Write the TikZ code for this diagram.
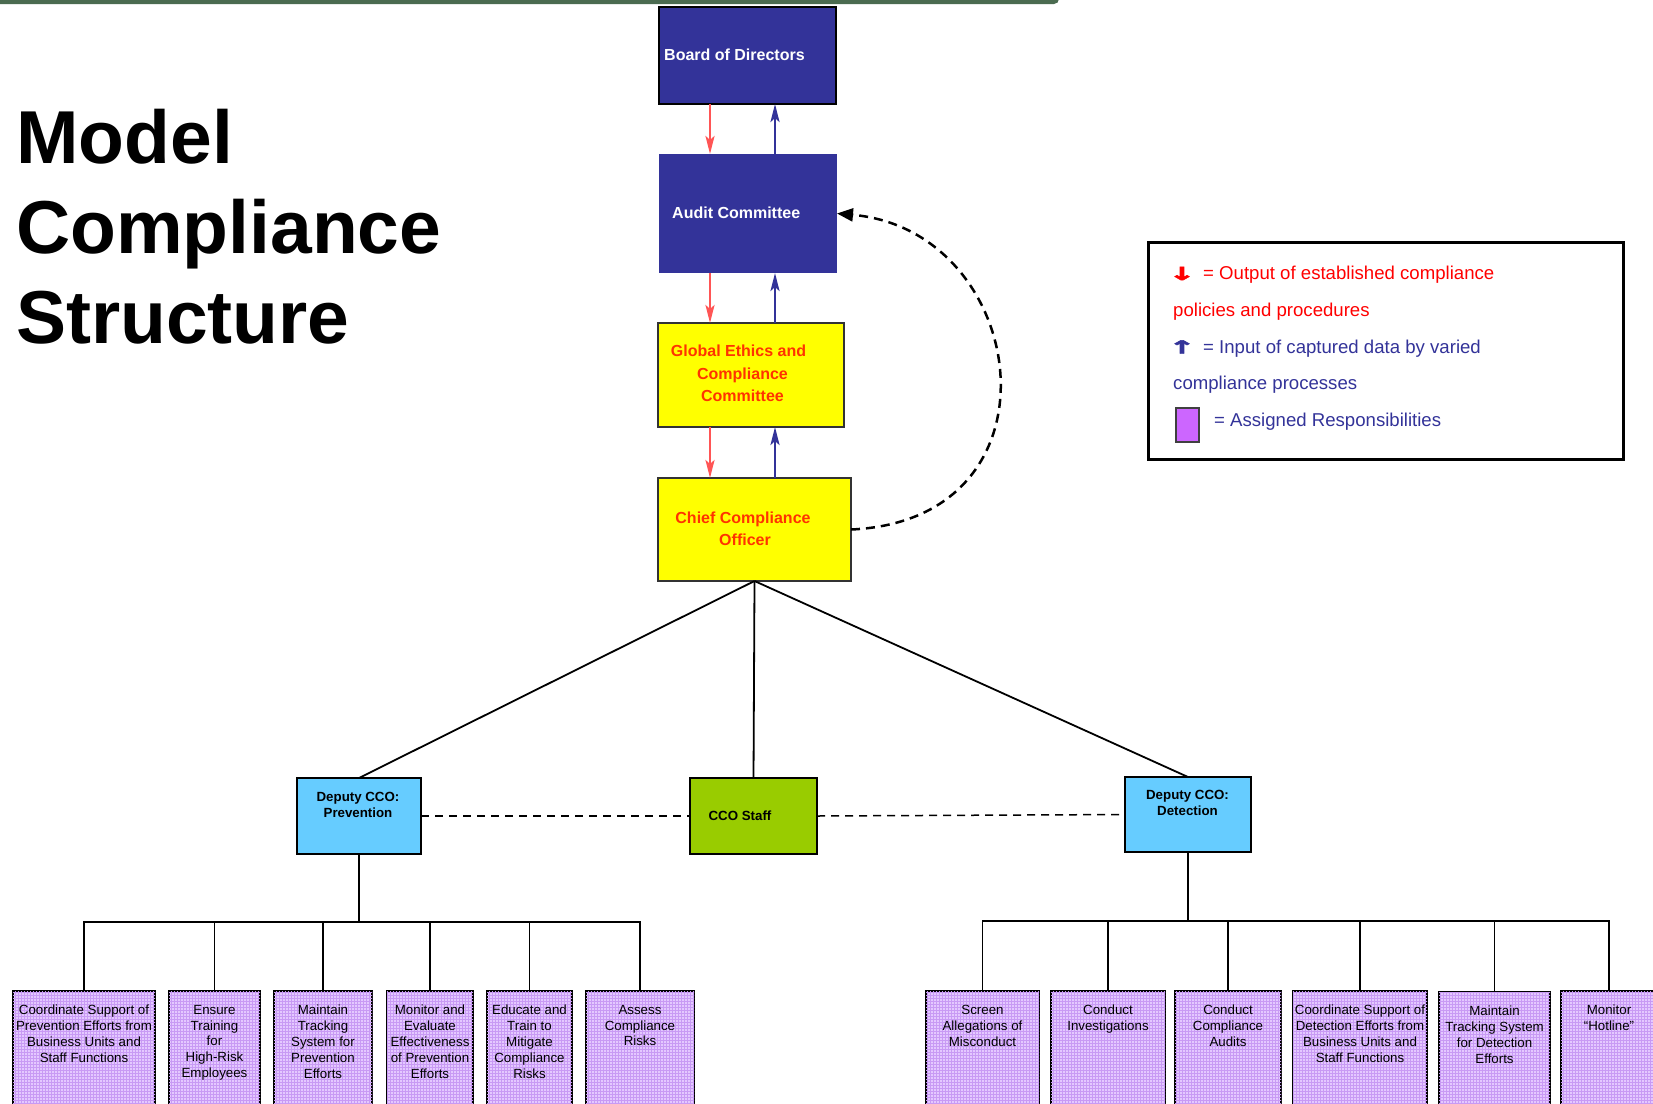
\documentclass[tikz,border=0pt]{standalone}
\usepackage{fontspec}
\setmainfont{Liberation Sans}
\newfontfamily\arrowfont[FakeBold=2.5]{DejaVu Sans}
\usetikzlibrary{arrows.meta,patterns}
\definecolor{navy}{HTML}{333399}
\definecolor{ylw}{HTML}{FFFF00}
\definecolor{ored}{HTML}{FF3300}
\definecolor{redarrow}{HTML}{FF5555}
\definecolor{ltblue}{HTML}{66CCFF}
\definecolor{stgreen}{HTML}{99CC00}
\definecolor{respfill}{HTML}{E4C8FF}
\definecolor{respgrid}{HTML}{C89AF4}
\definecolor{legpurple}{HTML}{CC66FF}
\definecolor{legred}{HTML}{FF0000}
\definecolor{topbar}{HTML}{4B6B50}
\tikzset{
  box/.style={anchor=north west, inner sep=0pt, outer sep=0pt},
  navybox/.style={box, fill=navy},
  ylwbox/.style={box, fill=ylw, draw=black!80, line width=1.3pt},
  depbox/.style={box, fill=ltblue, draw=black, line width=2pt},
  resp/.style={box, draw=black, line width=1.8pt, fill=respfill,
    postaction={pattern=grid, pattern color=respgrid}},
  whitetext/.style={text=white, font=\fontsize{16}{20}\selectfont\bfseries, inner sep=0pt},
  ylwtext/.style={text=ored, font=\fontsize{16}{22.5}\selectfont\bfseries, align=center, inner sep=0pt},
  deptext/.style={text=black, font=\fontsize{13.3}{16}\selectfont\bfseries, align=center, inner sep=0pt},
  resptext/.style={text=black, font=\fontsize{13.3}{15.8}\selectfont, align=center, inner sep=0pt, anchor=north},
  downarrow/.style={draw=redarrow, line width=2.5pt, -{Stealth[length=18pt,width=9pt,inset=4pt]}},
  uparrow/.style={draw=navy, line width=2.5pt, -{Stealth[length=18pt,width=9pt,inset=4pt]}},
  tree/.style={draw=black, line width=1.8pt},
  thin dash/.style={draw=black, line width=1.5pt, dash pattern=on 8pt off 6pt},
  legtext/.style={font=\fontsize{18.6}{22}\selectfont, inner sep=0pt, anchor=base west},
  legarrow/.style={font=\arrowfont\fontsize{19}{22}\selectfont\bfseries, inner sep=0pt, anchor=base},
}
\begin{document}
\begin{tikzpicture}[x=1pt,y=-1pt]
\useasboundingbox (0,0) rectangle (1653,1103);
\clip (0,0) rectangle (1653,1103);
\fill[white] (0,0) rectangle (1653,1103);
% top bar
\fill[topbar, rounded corners=5pt] (-10,-10) rectangle (1059,4);

% title
\node[anchor=north west, inner sep=0pt, align=left,
  font=\fontsize{75}{90}\selectfont\bfseries] (title) at (16,108.5)
  {Model\\Compliance\\Structure};

% top chain
\node[navybox, draw=black, line width=2pt, minimum width=177pt, minimum height=97pt] (board) at (659,7) {};
\node[whitetext, anchor=west] (boardT) at (664,55) {Board of Directors};
\node[navybox, minimum width=178pt, minimum height=119pt] (audit) at (659,154) {};
\node[whitetext, anchor=west] (auditT) at (672,213) {Audit Committee};
\node[ylwbox, minimum width=186pt, minimum height=104pt] (gecc) at (658,323) {};
\node[ylwtext] (geccT) at (742.5,373.4) {Global Ethics and\hspace*{8pt}\\Compliance\\Committee};
\node[ylwbox, minimum width=193pt, minimum height=103pt] (cco) at (658,478) {};
\node[ylwtext] (ccoT) at (745,529) {Chief Compliance\hspace*{4pt}\\Officer};

\coordinate (xr) at (710,0);
\coordinate (xb) at (775,0);
\draw[downarrow] (board.south -| xr) -- (audit.north -| xr);
\draw[uparrow] (audit.north -| xb) -- (board.south -| xb);
\draw[downarrow] (audit.south -| xr) -- (gecc.north -| xr);
\draw[uparrow] (gecc.north -| xb) -- (audit.south -| xb);
\draw[downarrow] (gecc.south -| xr) -- (cco.north -| xr);
\draw[uparrow] (cco.north -| xb) -- (gecc.south -| xb);

% dashed feedback curve
\draw[line width=2.5pt, dash pattern=on 9pt off 6pt, -{Triangle[length=16pt,width=13pt]}]
  (cco.east) .. controls (1070,520) and (1030,230) .. (audit.east);

% deputies
\node[depbox, minimum width=124pt, minimum height=76pt] (prev) at (297,778) {};
\node[deptext] (prevT) at (358,805) {Deputy CCO:\\Prevention};
\node[box, fill=stgreen, draw=black, line width=2pt, minimum width=127pt, minimum height=76pt] (staff) at (690,778) {};
\node[deptext] (staffT) at (740,816) {CCO Staff};
\node[depbox, minimum width=126pt, minimum height=75pt] (det) at (1125,777) {};
\node[deptext] (detT) at (1187.5,803) {Deputy CCO:\\Detection};

\draw[tree] (cco.south) -- (prev.north);
\draw[tree] (cco.south) -- (staff.north);
\draw[tree] (cco.south) -- (det.north);
\draw[thin dash] (prev.east) -- (staff.west);
\draw[thin dash] (staff.east) -- (det.west);

% prevention responsibilities
\node[resp, minimum width=142pt, minimum height=130pt] (p1) at (13,991) {};
\node[resp, minimum width=91pt, minimum height=130pt] (p2) at (169,991) {};
\node[resp, minimum width=98pt, minimum height=130pt] (p3) at (274,991) {};
\node[resp, minimum width=86pt, minimum height=130pt] (p4) at (387,991) {};
\node[resp, minimum width=85pt, minimum height=130pt] (p5) at (487,991) {};
\node[resp, minimum width=108pt, minimum height=130pt] (p6) at (586,991) {};
\node[resptext] (p1t) at ([yshift=-14pt]p1.north) {Coordinate Support of\\Prevention Efforts from\\Business Units and\\Staff Functions};
\node[resptext] (p2t) at ([yshift=-14pt]p2.north) {Ensure\\Training\\for\\High-Risk\\Employees};
\node[resptext] (p3t) at ([yshift=-14pt]p3.north) {Maintain\\Tracking\\System for\\Prevention\\Efforts};
\node[resptext] (p4t) at ([yshift=-14pt]p4.north) {Monitor and\\Evaluate\\Effectiveness\\of Prevention\\Efforts};
\node[resptext] (p5t) at ([yshift=-14pt]p5.north) {Educate and\\Train to\\Mitigate\\Compliance\\Risks};
\node[resptext] (p6t) at ([yshift=-14pt]p6.north) {Assess\\Compliance\\Risks};

\coordinate (pbar) at (359,922);
\draw[tree, line width=2.6pt] (prev.south) -- (pbar);
\draw[tree] (p1.north) -- (p1.north |- pbar) -- (pbar);
\draw[tree] (p2.north) -- (p2.north |- pbar) -- (pbar);
\draw[tree] (p3.north) -- (p3.north |- pbar) -- (pbar);
\draw[tree] (p4.north) -- (p4.north |- pbar) -- (pbar);
\draw[tree] (p5.north) -- (p5.north |- pbar) -- (pbar);
\draw[tree] (p6.north) -- (p6.north |- pbar) -- (pbar);

% detection responsibilities
\node[resp, minimum width=113pt, minimum height=130pt] (d1) at (926,991) {};
\node[resp, minimum width=114pt, minimum height=130pt] (d2) at (1051,991) {};
\node[resp, minimum width=106pt, minimum height=130pt] (d3) at (1175,991) {};
\node[resp, minimum width=134pt, minimum height=130pt] (d4) at (1293,991) {};
\node[resp, line width=2.4pt, minimum width=111pt, minimum height=130pt] (d5) at (1439,992) {};
\node[resp, minimum width=96pt, minimum height=130pt] (d6) at (1561,991) {};
\node[resptext] (d1t) at ([yshift=-14pt]d1.north) {Screen\\Allegations of\\Misconduct};
\node[resptext] (d2t) at ([yshift=-14pt]d2.north) {Conduct\\Investigations};
\node[resptext] (d3t) at ([yshift=-14pt]d3.north) {Conduct\\Compliance\\Audits};
\node[resptext] (d4t) at ([yshift=-14pt]d4.north) {Coordinate Support of\\Detection Efforts from\\Business Units and\\Staff Functions};
\node[resptext] (d5t) at ([yshift=-14pt]d5.north) {Maintain\\Tracking System\\for Detection\\Efforts};
\node[resptext] (d6t) at ([yshift=-14pt]d6.north) {Monitor\\“Hotline”};

\coordinate (dbar) at (1188,921);
\draw[tree, line width=2.6pt] (det.south) -- (dbar);
\draw[tree] (d1.north) -- (d1.north |- dbar) -- (dbar);
\draw[tree] (d2.north) -- (d2.north |- dbar) -- (dbar);
\draw[tree] (d3.north) -- (d3.north |- dbar) -- (dbar);
\draw[tree] (d4.north) -- (d4.north |- dbar) -- (dbar);
\draw[tree] (d5.north) -- (d5.north |- dbar) -- (dbar);
\draw[tree] (d6.north) -- (d6.north |- dbar) -- (dbar);

% legend
\node[box, draw=black, line width=3pt, minimum width=475pt, minimum height=217pt] (legend) at (1148,242) {};
\node[legarrow, text=legred] (la1) at (1182,280) {\scalebox{1.7}[0.95]{↓}};
\node[legtext, text=legred] (lt1) at (1203,279.7) {= Output of established compliance};
\node[legtext, text=legred] (lt2) at (1173,316.4) {policies and procedures};
\node[legarrow, text=navy] (la2) at (1182,353.5) {\scalebox{1.7}[0.95]{↑}};
\node[legtext, text=navy] (lt3) at (1203,353.1) {= Input of captured data by varied};
\node[legtext, text=navy] (lt4) at (1173,389.8) {compliance processes};
\node[box, fill=legpurple, draw=black!75, line width=1.2pt, minimum width=23pt, minimum height=34pt] (legsq) at (1176,408) {};
\node[legtext, text=navy] (lt5) at (1214,426.5) {= Assigned Responsibilities};
\end{tikzpicture}
\end{document}
